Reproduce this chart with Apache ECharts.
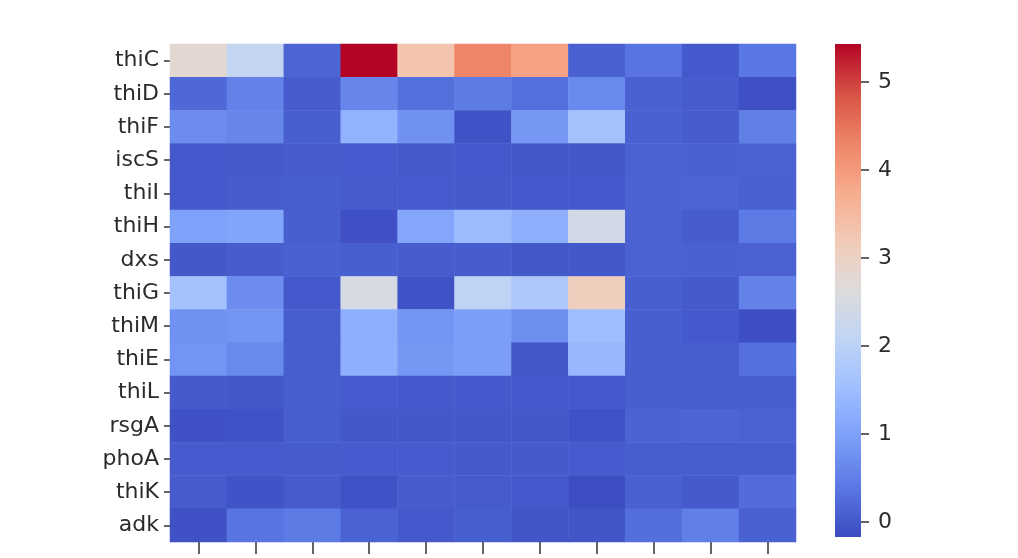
<!DOCTYPE html>
<html>
<head>
<meta charset="utf-8">
<script src="https://cdn.jsdelivr.net/npm/echarts@6/dist/echarts.min.js"></script>
<style>
  html, body { margin: 0; padding: 0; background: #ffffff; }
  #chart { width: 1018px; height: 558px; }
</style>
</head>
<body>
<div id="chart"></div>
<script>
// Gene rows (top to bottom) and sample columns (left to right)
const genes = ['thiC', 'thiD', 'thiF', 'iscS', 'thiI', 'thiH', 'dxs', 'thiG', 'thiM', 'thiE', 'thiL', 'rsgA', 'phoA', 'thiK', 'adk'];
const samples = ['S1', 'S2', 'S3', 'S4', 'S5', 'S6', 'S7', 'S8', 'S9', 'S10', 'S11'];

// Expression values, one array per gene
const thiC = [2.8, 2.15, 0.15, 5.43, 3.3, 4.3, 3.9, 0.1, 0.35, 0.0, 0.4];
const thiD = [0.2, 0.55, 0.05, 0.6, 0.3, 0.45, 0.3, 0.65, 0.1, 0.05, -0.12];
const thiF = [0.7, 0.6, 0.08, 1.3, 0.75, -0.08, 0.85, 1.6, 0.1, 0.05, 0.5];
const iscS = [0.0, 0.02, 0.05, 0.03, 0.02, 0.0, -0.02, -0.02, 0.12, 0.1, 0.12];
const thiI = [0.0, 0.05, 0.06, 0.04, 0.03, 0.02, 0.0, 0.0, 0.12, 0.15, 0.1];
const thiH = [1.0, 1.05, 0.08, -0.1, 1.08, 1.45, 1.25, 2.4, 0.12, 0.05, 0.45];
const dxs  = [-0.02, 0.05, 0.1, 0.08, 0.05, 0.05, -0.02, -0.02, 0.12, 0.1, 0.12];
const thiG = [1.6, 0.7, 0.0, 2.5, -0.08, 2.05, 1.75, 3.1, 0.08, 0.02, 0.55];
const thiM = [0.75, 0.8, 0.06, 1.25, 0.82, 0.95, 0.72, 1.5, 0.08, 0.0, -0.15];
const thiE = [0.8, 0.65, 0.06, 1.25, 0.85, 0.95, -0.02, 1.4, 0.08, 0.06, 0.3];
const thiL = [0.02, -0.02, 0.06, 0.03, 0.0, 0.0, 0.0, 0.0, 0.08, 0.06, 0.06];
const rsgA = [-0.1, -0.08, 0.06, -0.02, -0.02, -0.02, -0.02, -0.08, 0.14, 0.16, 0.12];
const phoA = [0.03, 0.03, 0.04, 0.03, 0.03, 0.02, 0.02, 0.03, 0.06, 0.06, 0.06];
const thiK = [0.04, -0.06, 0.04, -0.08, 0.05, 0.04, 0.0, -0.15, 0.1, 0.02, 0.25];
const adk  = [-0.1, 0.35, 0.45, 0.12, 0.0, 0.06, -0.04, -0.04, 0.28, 0.5, 0.1];
const rows = [thiC, thiD, thiF, iscS, thiI, thiH, dxs, thiG, thiM, thiE, thiL, rsgA, phoA, thiK, adk];

// Colour bar range and ticks
const vMin = -0.17;
const vMax = 5.43;
const barTicks = [0, 1, 2, 3, 4, 5];

// coolwarm colour map
const coolwarm = ['#3b4cc0', '#5977e3', '#7b9ff9', '#9ebeff', '#c0d4f5', '#dddcdc',
                  '#f2cbb7', '#f7ac8e', '#ee8468', '#d65244', '#b40426'];

const cells = [];
rows.forEach((vals, r) => vals.forEach((v, c) => cells.push([c, r, v])));

const textFont = { fontFamily: 'DejaVu Sans', fontSize: 22, color: '#2b2b2b' };

// Colour bar layout
const bar = { left: 835, top: 44, width: 26, height: 493 };

const chart = echarts.init(document.getElementById('chart'));
chart.setOption({
  backgroundColor: '#ffffff',
  animation: false,
  grid: [
    { left: 170, top: 44, width: 626, height: 498 },
    { left: bar.left, top: bar.top, width: bar.width, height: bar.height }
  ],
  xAxis: [
    {
      type: 'category', data: samples, gridIndex: 0, position: 'bottom',
      axisLine: { show: false },
      axisTick: { show: true, alignWithLabel: true, length: 12, lineStyle: { color: '#333', width: 1.5 } },
      axisLabel: { show: false },
      splitLine: { show: false }
    },
    { type: 'value', gridIndex: 1, min: 0, max: 1, show: false }
  ],
  yAxis: [
    {
      type: 'category', data: genes, gridIndex: 0, inverse: true,
      axisLine: { show: false },
      axisTick: { show: true, alignWithLabel: true, length: 6, lineStyle: { color: '#333', width: 1.5 } },
      axisLabel: Object.assign({ margin: 11 }, textFont),
      splitLine: { show: false }
    },
    {
      type: 'value', gridIndex: 1, position: 'right', min: vMin, max: vMax,
      axisLine: { show: false, onZero: false },
      splitLine: { show: false },
      axisTick: { show: true, length: 8, customValues: barTicks, lineStyle: { color: '#333', width: 1.5 } },
      axisLabel: Object.assign({ margin: 17, customValues: barTicks }, textFont)
    }
  ],
  visualMap: {
    type: 'continuous',
    show: false,
    min: vMin, max: vMax,
    inRange: { color: coolwarm },
    seriesIndex: 0
  },
  // Colour bar: gradient strip beside the colour-bar axis
  graphic: [{
    type: 'rect',
    left: bar.left, top: bar.top,
    shape: { width: bar.width, height: bar.height },
    style: {
      fill: new echarts.graphic.LinearGradient(0, 1, 0, 0,
        coolwarm.map((c, i) => ({ offset: i / (coolwarm.length - 1), color: c })))
    },
    z: -1,
    silent: true
  }],
  series: [{
    type: 'heatmap',
    xAxisIndex: 0, yAxisIndex: 0,
    data: cells,
    itemStyle: { borderWidth: 0 },
    emphasis: { disabled: true },
    progressive: 0
  }]
});
</script>
</body>
</html>
